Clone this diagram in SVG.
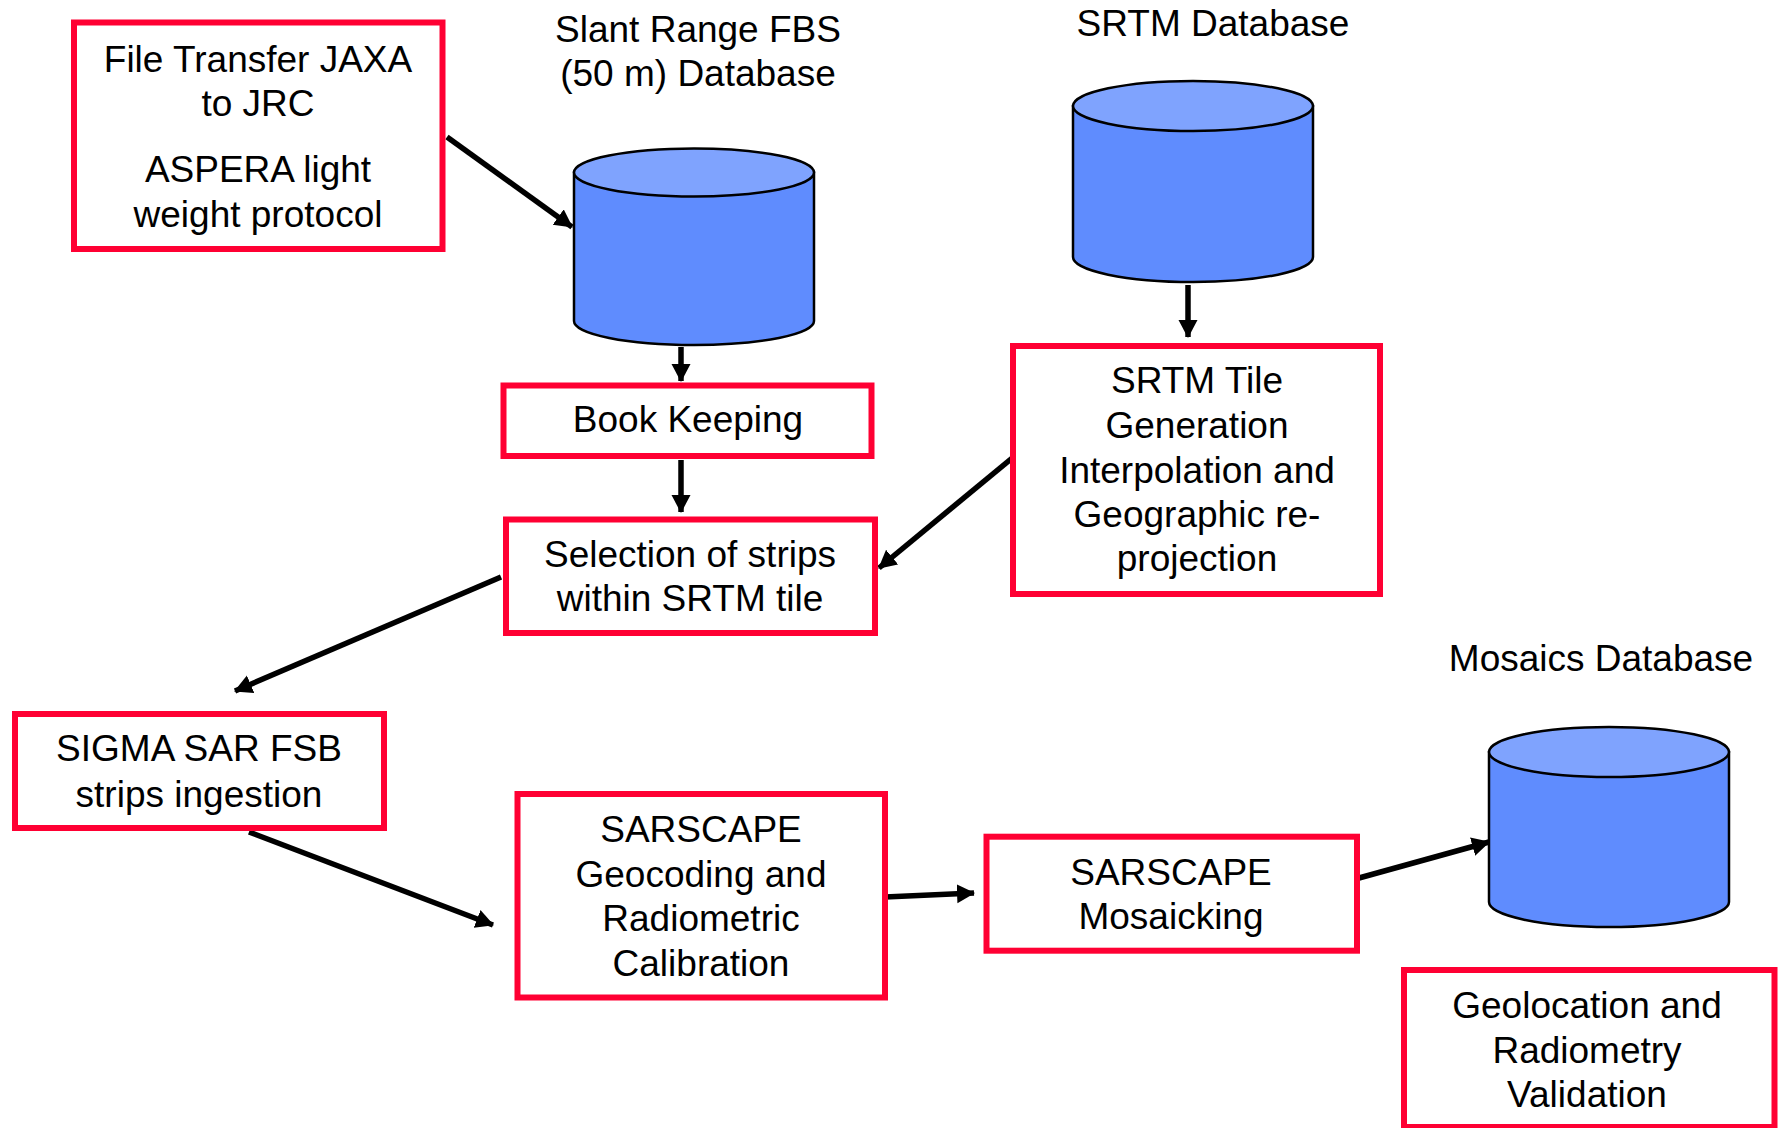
<svg xmlns="http://www.w3.org/2000/svg" width="1782" height="1128" viewBox="0 0 1782 1128">
<style>
.box{fill:#fff;stroke:#ff0033;stroke-width:6}
.t{font-family:"Liberation Sans",Arial,sans-serif;font-size:37px;fill:#000;text-anchor:middle}
.body{fill:#5f8cfe;stroke:#000;stroke-width:2.5}
.top{fill:#7fa3fe;stroke:#000;stroke-width:2.5}
.c{stroke:#000;stroke-width:5.5;fill:none;marker-end:url(#ah)}
</style>
<defs>
<marker id="ah" markerUnits="userSpaceOnUse" markerWidth="20" markerHeight="20" refX="17" refY="9.5" orient="auto">
<path d="M0,0 L18,9.5 L0,19 z" fill="#000"/>
</marker>
</defs>
<rect width="1782" height="1128" fill="#fff"/>

<g id="connectors">
<line class="c" x1="447" y1="137" x2="572" y2="227"/>
<line class="c" x1="681" y1="347" x2="681" y2="381"/>
<line class="c" x1="681" y1="460" x2="681" y2="512"/>
<line class="c" x1="1188" y1="285" x2="1188" y2="337"/>
<line class="c" x1="1017" y1="454" x2="879" y2="568"/>
<line class="c" x1="501" y1="577" x2="235" y2="691"/>
<line class="c" x1="249" y1="832" x2="493" y2="925"/>
<line class="c" x1="885" y1="897" x2="974" y2="893"/>
<line class="c" x1="1359" y1="878" x2="1489" y2="842"/>
</g>

<g id="file-transfer">
<rect class="box" x="74" y="22.5" width="368.5" height="226.5"/>
<text class="t" x="258" y="72">File Transfer JAXA</text>
<text class="t" x="258" y="116">to JRC</text>
<text class="t" x="258" y="182">ASPERA light</text>
<text class="t" x="258" y="227">weight protocol</text>
</g>

<g id="slant-range-db">
<text class="t" x="698" y="42">Slant Range FBS</text>
<text class="t" x="698" y="86">(50 m) Database</text>
<path class="body" d="M574,172.5 L574,321 A120,24 0 0 0 814,321 L814,172.5 Z"/>
<ellipse class="top" cx="694" cy="172.5" rx="120" ry="24"/>
</g>

<g id="srtm-db">
<text class="t" x="1213" y="36">SRTM Database</text>
<path class="body" d="M1073,106 L1073,257 A120,25 0 0 0 1313,257 L1313,106 Z"/>
<ellipse class="top" cx="1193" cy="106" rx="120" ry="25"/>
</g>

<g id="book-keeping">
<rect class="box" x="503.5" y="385.5" width="368" height="70.5"/>
<text class="t" x="688" y="432">Book Keeping</text>
</g>

<g id="selection">
<rect class="box" x="506" y="519.5" width="369" height="113.5"/>
<text class="t" x="690" y="567">Selection of strips</text>
<text class="t" x="690" y="611">within SRTM tile</text>
</g>

<g id="srtm-tile">
<rect class="box" x="1013" y="346" width="367" height="248"/>
<text class="t" x="1197" y="393">SRTM Tile</text>
<text class="t" x="1197" y="438">Generation</text>
<text class="t" x="1197" y="483">Interpolation and</text>
<text class="t" x="1197" y="527">Geographic re-</text>
<text class="t" x="1197" y="571">projection</text>
</g>

<g id="sigma">
<rect class="box" x="15" y="714" width="369" height="114"/>
<text class="t" x="199" y="761">SIGMA SAR FSB</text>
<text class="t" x="199" y="807">strips ingestion</text>
</g>

<g id="geocoding">
<rect class="box" x="517.5" y="794" width="367.5" height="203.5"/>
<text class="t" x="701" y="842">SARSCAPE</text>
<text class="t" x="701" y="887">Geocoding and</text>
<text class="t" x="701" y="931">Radiometric</text>
<text class="t" x="701" y="976">Calibration</text>
</g>

<g id="mosaicking">
<rect class="box" x="986.5" y="836.7" width="370.5" height="114"/>
<text class="t" x="1171" y="885">SARSCAPE</text>
<text class="t" x="1171" y="929">Mosaicking</text>
</g>

<g id="mosaics-db">
<text class="t" x="1601" y="671">Mosaics Database</text>
<path class="body" d="M1489,752 L1489,902 A120,25 0 0 0 1729,902 L1729,752 Z"/>
<ellipse class="top" cx="1609" cy="752" rx="120" ry="25"/>
</g>

<g id="validation">
<rect class="box" x="1404" y="970" width="370.5" height="157"/>
<text class="t" x="1587" y="1018">Geolocation and</text>
<text class="t" x="1587" y="1063">Radiometry</text>
<text class="t" x="1587" y="1107">Validation</text>
</g>
</svg>
